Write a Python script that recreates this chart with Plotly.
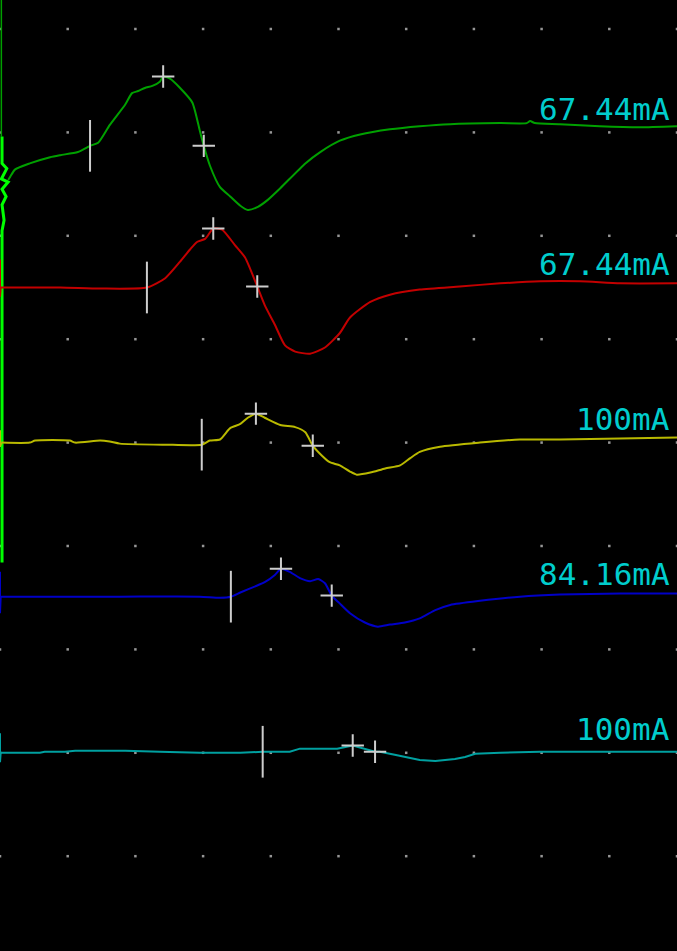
import numpy as np
import plotly.graph_objects as go

# Time in ms (1 ms/div), amplitude in divisions relative to each channel's baseline
green_t = [0.12, 0.15, 0.22, 0.44, 0.74, 0.89, 1.15, 1.33, 1.45, 1.62, 1.85, 1.95, 2.04, 2.14, 2.25,
           2.36, 2.41, 2.51, 2.66, 2.84, 2.95, 3.01, 3.10, 3.25, 3.40, 3.55, 3.66, 3.81, 3.96, 4.14,
           4.51, 4.73, 5.02, 5.32, 5.76, 6.20, 6.65, 7.39, 7.78, 7.83, 7.90, 8.27, 8.86, 9.45, 10.0]
green_v = [-0.46, -0.43, -0.36, -0.30, -0.24, -0.22, -0.19, -0.13, -0.10, 0.07, 0.27, 0.38, 0.40, 0.43, 0.45,
           0.49, 0.54, 0.52, 0.43, 0.29, 0.02, -0.13, -0.32, -0.53, -0.62, -0.71, -0.75, -0.72, -0.65, -0.54,
           -0.30, -0.19, -0.08, -0.02, 0.03, 0.06, 0.08, 0.09, 0.09, 0.11, 0.09, 0.08, 0.06, 0.05, 0.06]

# stimulus artifact of the first channel
green_art_t = [0.02, 0.02, 0.03, 0.03, 0.10, 0.02, 0.12, 0.03, 0.09, 0.03, 0.06, 0.03, 0.03]
green_art_v = [1.35, -0.04, -0.04, -0.30, -0.35, -0.45, -0.48, -0.55, -0.62, -0.70, -0.85, -0.95, -4.16]

red_t = [0, 0, 0.01, 0.89, 1.48, 2.17, 2.44, 2.66, 2.81, 2.91, 3.03, 3.15, 3.28, 3.47, 3.62, 3.80,
         3.91, 4.06, 4.21, 4.36, 4.58, 4.80, 5.02, 5.17, 5.47, 5.76, 6.20, 6.79, 7.39, 7.98, 8.57,
         9.16, 10.0]
red_v = [0.27, -0.09, 0.00, 0.00, -0.01, 0.00, 0.09, 0.25, 0.37, 0.44, 0.47, 0.57, 0.56, 0.41, 0.29, 0.01,
         -0.17, -0.36, -0.56, -0.62, -0.64, -0.58, -0.44, -0.29, -0.14, -0.07, -0.02, 0.01, 0.04, 0.06, 0.06,
         0.04, 0.04]

yellow_t = [0, 0, 0.02, 0.44, 0.52, 1.03, 1.11, 1.48, 1.62, 1.77, 2.44, 2.98, 3.10, 3.25, 3.40, 3.55,
            3.66, 3.78, 3.91, 4.14, 4.36, 4.51, 4.62, 4.76, 4.87, 5.02, 5.17, 5.27, 5.47, 5.69, 5.91,
            6.06, 6.20, 6.50, 7.09, 7.68, 8.27, 9.16, 10.0]
yellow_v = [0.12, -0.04, 0.00, 0.00, 0.02, 0.02, 0.00, 0.02, 0.01, -0.01, -0.02, -0.02, 0.02, 0.03, 0.14, 0.18,
            0.24, 0.28, 0.24, 0.17, 0.15, 0.10, -0.03, -0.13, -0.19, -0.22, -0.28, -0.31, -0.29, -0.25, -0.22,
            -0.15, -0.09, -0.04, 0.00, 0.03, 0.03, 0.04, 0.05]

blue_t = [0, 0, 0.01, 0.59, 1.77, 2.95, 3.25, 3.41, 3.55, 3.77, 3.91, 4.06, 4.15, 4.28, 4.43, 4.58,
          4.70, 4.80, 4.90, 5.01, 5.17, 5.39, 5.58, 5.76, 5.98, 6.20, 6.43, 6.65, 7.09, 7.68, 8.27,
          9.16, 10.0]
blue_v = [0.25, -0.15, 0.01, 0.01, 0.01, 0.01, 0.00, 0.01, 0.05, 0.11, 0.15, 0.22, 0.28, 0.25, 0.19, 0.16,
          0.18, 0.14, 0.02, -0.05, -0.15, -0.24, -0.28, -0.26, -0.24, -0.20, -0.12, -0.07, -0.03, 0.01, 0.03,
          0.04, 0.04]

cyan_t = [0, 0, 0.01, 0.59, 0.66, 0.96, 1.11, 1.85, 2.36, 2.95, 3.55, 3.88, 4.28, 4.43, 4.98, 5.21,
          5.54, 5.61, 5.83, 6.20, 6.43, 6.72, 6.87, 7.02, 7.39, 7.98, 10.0]
cyan_v = [0.19, -0.09, 0.00, 0.00, 0.01, 0.01, 0.02, 0.02, 0.01, 0.00, 0.00, 0.01, 0.01, 0.04, 0.04, 0.07,
          0.01, 0.01, -0.02, -0.07, -0.08, -0.06, -0.04, -0.01, 0.00, 0.01, 0.01]

# stimulus intensity per channel
stim_labels = ["67.44mA", "67.44mA", "100mA", "84.16mA", "100mA"]
# latency cursors (ms): onset, peak, second cursor
onset_ms = [1.33, 2.17, 2.98, 3.41, 3.88]
peak_ms = [2.41, 3.15, 3.78, 4.15, 5.21]
second_ms = [3.01, 3.80, 4.62, 4.90, 5.54]

channels = [
    (green_t, green_v, "rgb(0,160,0)", "spline"),
    (red_t, red_v, "rgb(195,0,0)", "spline"),
    (yellow_t, yellow_v, "rgb(185,185,0)", "spline"),
    (blue_t, blue_v, "rgb(0,0,200)", "spline"),
    (cyan_t, cyan_v, "rgb(0,160,160)", "linear"),
]
baselines = [-1.0, -2.5, -4.0, -5.5, -7.0]

fig = go.Figure()

# dotted screen graticule
gx, gy = [], []
for i in range(0, 11):
    for j in range(0, 9):
        gx.append(i)
        gy.append(-j)
fig.add_trace(go.Scatter(x=gx, y=gy, mode="markers", cliponaxis=False,
                         marker=dict(symbol="square", size=2.5, color="rgb(150,150,150)"),
                         hoverinfo="skip", showlegend=False))

# artifact on the first channel
art_y = [v + baselines[0] for v in green_art_v]
fig.add_trace(go.Scatter(x=green_art_t[:2], y=art_y[:2], mode="lines",
                         line=dict(color="rgb(0,160,0)", width=1.5), hoverinfo="skip", showlegend=False))
fig.add_trace(go.Scatter(x=green_art_t[2:], y=art_y[2:], mode="lines",
                         line=dict(color="rgb(0,255,0)", width=3), hoverinfo="skip", showlegend=False))

cursor_color = "rgb(205,205,205)"
for k, (t, v, col, shape) in enumerate(channels):
    base = baselines[k]
    y = [val + base for val in v]
    skip = 0 if k == 0 else 2
    # artifact tick at sweep start
    if skip:
        fig.add_trace(go.Scatter(x=t[:3], y=y[:3], mode="lines", line=dict(color=col, width=2),
                                 hoverinfo="skip", showlegend=False))
    line = dict(color=col, width=2, shape=shape)
    if shape == "spline":
        line["smoothing"] = 0.6
    fig.add_trace(go.Scatter(x=t[skip:], y=y[skip:], mode="lines", line=line,
                             hoverinfo="skip", showlegend=False))
    t_arr = np.array(t[skip:])
    y_arr = np.array(y[skip:])
    # onset cursor: vertical tick
    y0 = float(np.interp(onset_ms[k], t_arr, y_arr))
    fig.add_trace(go.Scatter(x=[onset_ms[k], onset_ms[k]], y=[y0 - 0.25, y0 + 0.25], mode="lines",
                             line=dict(color=cursor_color, width=2), hoverinfo="skip", showlegend=False))
    # peak and second cursors: crosses
    cx = [peak_ms[k], second_ms[k]]
    cy = [float(np.interp(c, t_arr, y_arr)) for c in cx]
    fig.add_trace(go.Scatter(x=cx, y=cy, mode="markers",
                             marker=dict(symbol="cross-thin", size=16,
                                         line=dict(color=cursor_color, width=2)),
                             hoverinfo="skip", showlegend=False))
    fig.add_annotation(x=9.92, y=base + 0.23, text=stim_labels[k], showarrow=False,
                       xanchor="right", yanchor="middle",
                       font=dict(family="DejaVu Sans Mono", size=31, color="rgb(0,205,205)"))

fig.update_layout(
    width=677, height=951,
    margin=dict(l=0, r=0, t=0, b=0),
    paper_bgcolor="black", plot_bgcolor="black",
    xaxis=dict(range=[0, 10], visible=False, fixedrange=True),
    yaxis=dict(range=[-8.917, 0.2805], visible=False, fixedrange=True),
    hovermode=False,
)

fig.write_html("out.html", config={"displayModeBar": False})
